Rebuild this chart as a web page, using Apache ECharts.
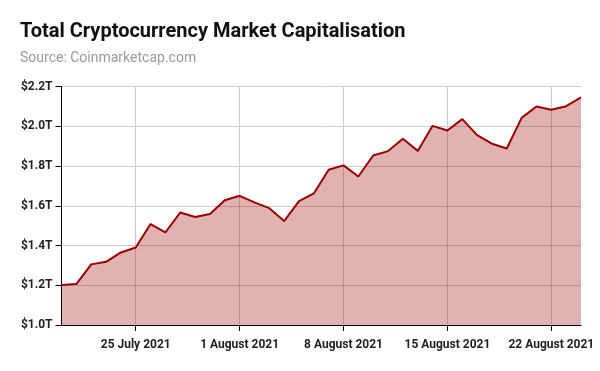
<!DOCTYPE html>
<html>
<head>
<meta charset="utf-8">
<script src="https://cdn.jsdelivr.net/npm/echarts@6/dist/echarts.min.js"></script>
<style>html,body{margin:0;padding:0;background:#fff}#c{width:600px;height:371px}</style>
</head>
<body>
<div id="c"></div>
<script>
// Dates: 20 July 2021 .. 24 August 2021 (daily)
const dates = [
  "20 July 2021","21 July 2021","22 July 2021","23 July 2021","24 July 2021","25 July 2021",
  "26 July 2021","27 July 2021","28 July 2021","29 July 2021","30 July 2021","31 July 2021",
  "1 August 2021","2 August 2021","3 August 2021","4 August 2021","5 August 2021","6 August 2021",
  "7 August 2021","8 August 2021","9 August 2021","10 August 2021","11 August 2021","12 August 2021",
  "13 August 2021","14 August 2021","15 August 2021","16 August 2021","17 August 2021","18 August 2021",
  "19 August 2021","20 August 2021","21 August 2021","22 August 2021","23 August 2021","24 August 2021"
];
// Market cap in trillions USD
const marketCap = [
  1.201,1.206,1.305,1.318,1.365,1.390,
  1.508,1.466,1.566,1.543,1.558,1.628,
  1.650,1.617,1.588,1.523,1.623,1.662,
  1.781,1.803,1.747,1.853,1.875,1.937,
  1.876,2.002,1.979,2.036,1.955,1.912,
  1.888,2.042,2.099,2.083,2.101,2.145
];
const tickLabels = ["25 July 2021","1 August 2021","8 August 2021","15 August 2021","22 August 2021"];
const yTicks = [1.0,1.2,1.4,1.6,1.8,2.0,2.2];

const isTick = (i) => tickLabels.indexOf(dates[i]) >= 0;
const font = 'Roboto, "Noto Sans", sans-serif';

const chart = echarts.init(document.getElementById('c'), null, {renderer: 'canvas'});
chart.setOption({
  animation: false,
  backgroundColor: '#ffffff',
  title: [
    {text: 'Total Cryptocurrency Market Capitalisation', left: 20, top: 22, padding: 0,
     textStyle: {fontFamily: font, fontSize: 20, fontWeight: 'bold', color: '#111'}},
    {text: 'Source: Coinmarketcap.com', left: 20, top: 51, padding: 0,
     textStyle: {fontFamily: font, fontSize: 14, fontWeight: 'normal', color: '#999'}}
  ],
  grid: {left: 61.5, right: 19, top: 86.5, bottom: 46, containLabel: false},
  xAxis: {
    type: 'category',
    data: dates,
    boundaryGap: false,
    axisLine: {show: true, lineStyle: {color: '#000', width: 1}},
    axisTick: {show: true, length: 6, interval: (i) => isTick(i), lineStyle: {color: '#000'}},
    axisLabel: {interval: (i) => isTick(i), margin: 14, fontFamily: font, fontSize: 12,
      fontWeight: 'bold', color: '#222'},
    splitLine: {show: true, interval: (i) => isTick(i), lineStyle: {color: '#cccccc', width: 1}}
  },
  yAxis: {
    type: 'value',
    min: yTicks[0], max: yTicks[yTicks.length - 1], interval: 0.2,
    axisLine: {show: true, lineStyle: {color: '#000', width: 1}},
    axisTick: {show: true, length: 6, lineStyle: {color: '#000'}},
    axisLabel: {margin: 9, fontFamily: font, fontSize: 12, fontWeight: 'bold', color: '#222',
      formatter: (v) => '$' + v.toFixed(1) + 'T'},
    splitLine: {show: true, lineStyle: {color: '#cccccc', width: 1}}
  },
  series: [{
    type: 'line',
    data: marketCap,
    symbol: 'none',
    lineStyle: {color: '#990000', width: 2},
    areaStyle: {color: '#990000', opacity: 0.3},
    z: 3
  }]
});
</script>
</body>
</html>
